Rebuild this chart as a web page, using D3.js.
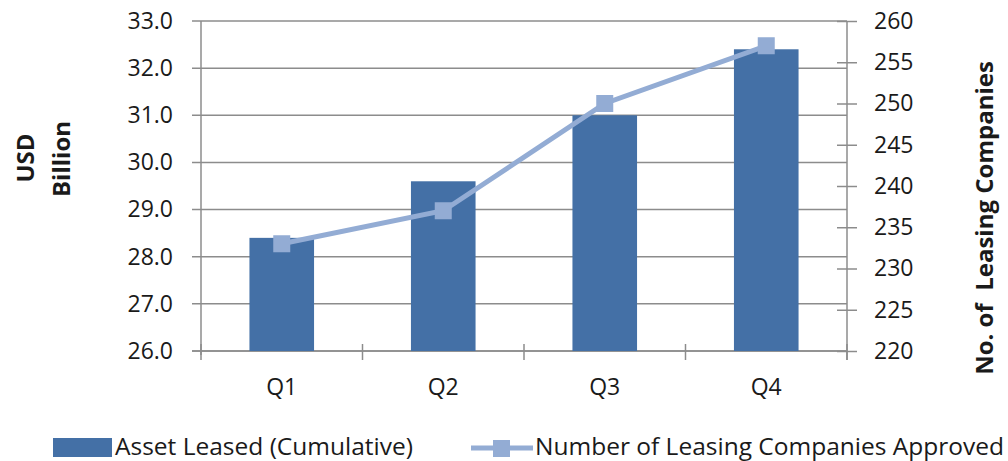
<!DOCTYPE html>
<html>
<head>
<meta charset="utf-8">
<script src="https://cdn.jsdelivr.net/npm/d3@7"></script>
<style>
  body { margin: 0; background: #fff; }
  text { font-family: "Open Sans", sans-serif; fill: #1a1a1a; }
</style>
</head>
<body>
<div class="chart"></div>
<script>
// data
var quarters = ["Q1", "Q2", "Q3", "Q4"];
var assetLeased = [28.4, 29.6, 31.0, 32.4];   // USD billion, cumulative
var companies = [233, 237, 250, 257];          // number approved
var leftTicks = [26, 27, 28, 29, 30, 31, 32, 33];
var rightTicks = [220, 225, 230, 235, 240, 245, 250, 255, 260];

var width = 1008, height = 461;
var margin = { top: 21, right: 161, bottom: 110, left: 201 };
var plotW = width - margin.left - margin.right;   // 646
var plotH = height - margin.top - margin.bottom;  // 330

var barColor = "#4470a6";
var lineColor = "#93acd4";
var gridColor = "#8c8c8c";
var tickFont = 23;

var svg = d3.select(".chart")
  .append("svg")
  .attr("width", width)
  .attr("height", height);

var g = svg.append("g")
  .attr("transform", "translate(" + margin.left + "," + margin.top + ")");

var x = d3.scaleBand()
  .domain(quarters)
  .range([0, plotW])
  .paddingInner(0.6)
  .paddingOuter(0.3);

var yL = d3.scaleLinear().domain([26, 33]).range([plotH, 0]);
var yR = d3.scaleLinear().domain([220, 260]).range([plotH, 0]);

// gridlines
g.selectAll(".grid")
  .data(leftTicks)
  .enter()
  .append("line")
  .attr("x1", -9)
  .attr("x2", plotW)
  .attr("y1", function (d) { return yL(d); })
  .attr("y2", function (d) { return yL(d); })
  .attr("stroke", gridColor)
  .attr("stroke-width", 1.5);

// left axis
var leftAxis = g.append("g")
  .call(d3.axisLeft(yL).tickValues(leftTicks).tickFormat(d3.format(".1f")).tickSize(0).tickPadding(28));
leftAxis.select(".domain").remove();
leftAxis.selectAll("text").attr("font-size", tickFont).attr("font-family", "Open Sans").attr("fill", "#1a1a1a");
g.append("line")
  .attr("x1", 0).attr("x2", 0)
  .attr("y1", 0).attr("y2", plotH + 4)
  .attr("stroke", gridColor).attr("stroke-width", 1.5);

// right axis with crossing ticks
var rightAxis = g.append("g")
  .attr("transform", "translate(" + plotW + ",0)")
  .call(d3.axisRight(yR).tickValues(rightTicks).tickSize(0).tickPadding(27));
rightAxis.select(".domain").remove();
rightAxis.selectAll("text").attr("font-size", tickFont).attr("font-family", "Open Sans").attr("fill", "#1a1a1a");
rightAxis.selectAll(".tick").append("line")
  .attr("x1", -10).attr("x2", 10)
  .attr("stroke", gridColor).attr("stroke-width", 1.5);
g.append("line")
  .attr("x1", plotW).attr("x2", plotW)
  .attr("y1", 0).attr("y2", plotH + 9)
  .attr("stroke", gridColor).attr("stroke-width", 1.5);

// bottom axis
var catEdges = d3.range(quarters.length + 1).map(function (i) { return i * plotW / quarters.length; });
g.append("line")
  .attr("x1", -9).attr("x2", plotW)
  .attr("y1", plotH).attr("y2", plotH)
  .attr("stroke", gridColor).attr("stroke-width", 1.5);
g.selectAll(".xtick")
  .data(catEdges)
  .enter()
  .append("line")
  .attr("x1", function (d) { return d; })
  .attr("x2", function (d) { return d; })
  .attr("y1", plotH - 7)
  .attr("y2", plotH + 9)
  .attr("stroke", gridColor).attr("stroke-width", 1.5);
g.selectAll(".xlabel")
  .data(quarters)
  .enter()
  .append("text")
  .attr("x", function (d) { return x(d) + x.bandwidth() / 2; })
  .attr("y", plotH + 44)
  .attr("text-anchor", "middle")
  .attr("font-size", tickFont)
  .text(function (d) { return d; });

// bars
g.selectAll(".bar")
  .data(assetLeased)
  .enter()
  .append("rect")
  .attr("x", function (d, i) { return x(quarters[i]); })
  .attr("y", function (d) { return yL(d); })
  .attr("width", x.bandwidth())
  .attr("height", function (d) { return plotH - yL(d); })
  .attr("fill", barColor);

// line series
var line = d3.line()
  .x(function (d, i) { return x(quarters[i]) + x.bandwidth() / 2; })
  .y(function (d) { return yR(d); });
g.append("path")
  .datum(companies)
  .attr("d", line)
  .attr("fill", "none")
  .attr("stroke", lineColor)
  .attr("stroke-width", 5);
g.selectAll(".marker")
  .data(companies)
  .enter()
  .append("rect")
  .attr("x", function (d, i) { return x(quarters[i]) + x.bandwidth() / 2 - 8.5; })
  .attr("y", function (d) { return yR(d) - 8.5; })
  .attr("width", 17)
  .attr("height", 17)
  .attr("fill", lineColor);

// axis titles
svg.append("text")
  .attr("transform", "translate(34,158) rotate(-90)")
  .attr("text-anchor", "middle")
  .attr("font-size", 24)
  .attr("font-weight", "bold")
  .text("USD");
svg.append("text")
  .attr("transform", "translate(70,159) rotate(-90)")
  .attr("text-anchor", "middle")
  .attr("font-size", 24)
  .attr("font-weight", "bold")
  .text("Billion");
svg.append("text")
  .attr("transform", "translate(993,218) rotate(-90)")
  .attr("text-anchor", "middle")
  .attr("font-size", 24)
  .attr("font-weight", "bold")
  .attr("xml:space", "preserve")
  .style("white-space", "pre")
  .text("No. of  Leasing Companies");

// legend
var legend = svg.append("g");
legend.append("rect")
  .attr("x", 53).attr("y", 438)
  .attr("width", 59).attr("height", 19)
  .attr("fill", barColor);
legend.append("text")
  .attr("x", 115).attr("y", 455)
  .attr("font-size", 24.5)
  .text("Asset Leased (Cumulative)");
legend.append("line")
  .attr("x1", 471).attr("x2", 533)
  .attr("y1", 448).attr("y2", 448)
  .attr("stroke", lineColor).attr("stroke-width", 5);
legend.append("rect")
  .attr("x", 493).attr("y", 440)
  .attr("width", 17).attr("height", 17)
  .attr("fill", lineColor);
legend.append("text")
  .attr("x", 535).attr("y", 455)
  .attr("font-size", 24.5)
  .text("Number of Leasing Companies Approved");
</script>
</body>
</html>
